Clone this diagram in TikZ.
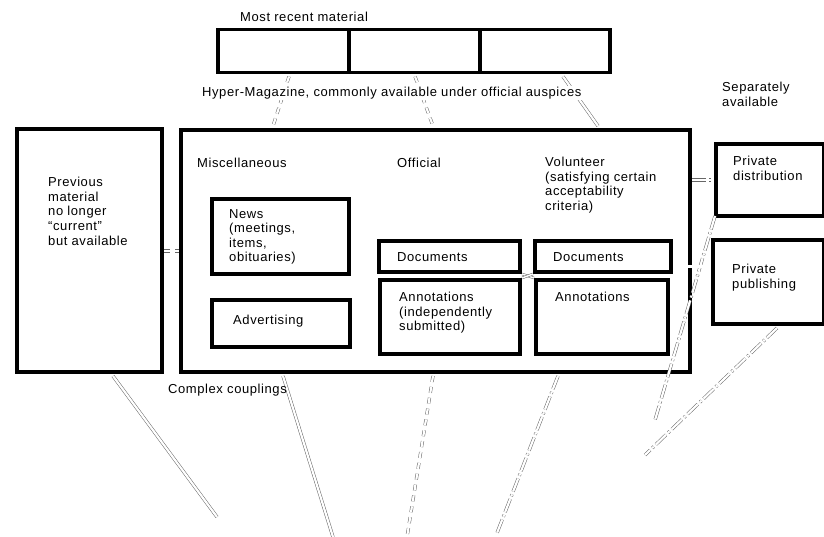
\documentclass[tikz,border=0pt]{standalone}
\usepackage{fontspec}
\setmainfont{Liberation Sans}[LetterSpace=4.5]
\usetikzlibrary{calc}
\tikzset{
  box/.style={draw=black, line width=4pt, inner sep=0pt, anchor=north west},
  topbox/.style={draw=black, line width=3.5pt, inner sep=0pt, anchor=north west},
  lbl/.style={inner sep=0pt, anchor=north west, align=left, font=\fontsize{13}{14.6}\selectfont},
  coup/.style={draw=black!60, line width=0.5pt, double=white, double distance=2.2pt},
  coupdash/.style={coup, dash pattern=on 14pt off 3pt on 2pt off 3pt},
  coupsparse/.style={coup, dash pattern=on 6pt off 5pt}
}
\begin{document}
\begin{tikzpicture}[x=1pt,y=-1pt]
\useasboundingbox (0,0) rectangle (824,537);
% top boxes
\node[topbox, minimum width=131pt, minimum height=43pt] (tb1) at (216,28) {};
\node[topbox, minimum width=131pt, minimum height=43pt] (tb2) at (347,28) {};
\node[topbox, minimum width=130pt, minimum height=43pt] (tb3) at (478,28) {};
% left and main boxes
\node[box, minimum width=145pt, minimum height=243pt] (left) at (15,127) {};
\node[box, minimum width=509pt, minimum height=242pt] (main) at (179,128) {};
% inner boxes
\node[box, minimum width=137pt, minimum height=75pt] (news) at (210,197) {};
\node[box, minimum width=138pt, minimum height=47pt] (adv) at (210,298) {};
\node[box, minimum width=141pt, minimum height=31pt] (odoc) at (377,239) {};
\node[box, minimum width=140pt, minimum height=74pt] (oann) at (378,278) {};
\node[box, minimum width=136pt, minimum height=31pt] (vdoc) at (533,239) {};
\node[box, minimum width=132pt, minimum height=74pt] (vann) at (534,278) {};
\node[box, minimum width=108pt, minimum height=72pt] (pdist) at (714,142) {};
\node[box, minimum width=111pt, minimum height=84pt] (ppub) at (711,238) {};
% free ends of couplings
\coordinate (e1) at (217,517);
\coordinate (e2) at (333,537);
\coordinate (e3) at (407,537);
\coordinate (e4) at (497,533);
\coordinate (e5) at (655,420);
\coordinate (e6) at (645,455);
\coordinate (yl) at (0,251);
% couplings
\draw[coup] ([xshift=98pt,yshift=-2pt]left.south west) -- (e1);
\draw[coup] ([xshift=104pt,yshift=-2pt]main.south west) -- (e2);
\draw[coupsparse] ([xshift=254pt,yshift=-2pt]main.south west) -- (e3);
\draw[coupdash] ([xshift=379pt,yshift=-2pt]main.south west) -- (e4);
\draw[coupdash] ([xshift=1pt,yshift=2pt]pdist.south west) -- (e5);
\draw[coupdash] ([xshift=66pt,yshift=-2pt]ppub.south west) -- (e6);
\draw[coupsparse] ([xshift=73pt,yshift=-2pt]tb1.south west) -- ([xshift=94pt,yshift=2pt]main.north west);
\draw[coupsparse] ([xshift=68pt,yshift=-2pt]tb2.south west) -- ([xshift=254pt,yshift=2pt]main.north west);
\draw[coup] ([xshift=85pt,yshift=-2pt]tb3.south west) -- ([xshift=419pt,yshift=2pt]main.north west);
\draw[coupsparse] (left.east |- yl) -- (main.west |- yl);
\draw[coupdash] (main.east |- pdist.west) -- (pdist.west);
\draw[coup] ([yshift=-10pt]vdoc.east) -- ([yshift=-10pt]vdoc.east -| ppub.west);
\draw[coup, double distance=1.5pt] (odoc.south east) -- (vann.north west);
\draw[coup, double distance=1.5pt] (oann.north east) -- (vdoc.south west);
% texts
\node[lbl, anchor=west] (t_recent) at (240,17) {Most recent material};
\node[lbl, anchor=west, fill=white, inner sep=1pt] (t_hyper) at (201,93) {Hyper-Magazine, commonly available under official auspices};
\node[lbl] (t_sep) at (722,82) {Separately\\available};
\node[lbl] (t_prev) at (48,177) {Previous\\material\\no longer\\“current”\\but available};
\node[lbl, anchor=west] (t_misc) at (197,163) {Miscellaneous};
\node[lbl, anchor=west] (t_off) at (397,163) {Official};
\node[lbl] (t_vol) at (545,157) {Volunteer\\(satisfying certain\\acceptability\\criteria)};
\node[lbl] (t_news) at (229,209) {News\\(meetings,\\items,\\obituaries)};
\node[lbl, anchor=west] (t_adv) at (233,321) {Advertising};
\node[lbl, anchor=west] (t_odoc) at (397,257) {Documents};
\node[lbl, anchor=west] (t_vdoc) at (553,257) {Documents};
\node[lbl] (t_oann) at (399,292) {Annotations\\(independently\\submitted)};
\node[lbl] (t_vann) at (555,292) {Annotations};
\node[lbl] (t_pdist) at (733,156) {Private\\distribution};
\node[lbl] (t_ppub) at (732,264) {Private\\publishing};
\node[lbl, anchor=west] (t_cc) at (168,390) {Complex couplings};
\end{tikzpicture}
\end{document}
